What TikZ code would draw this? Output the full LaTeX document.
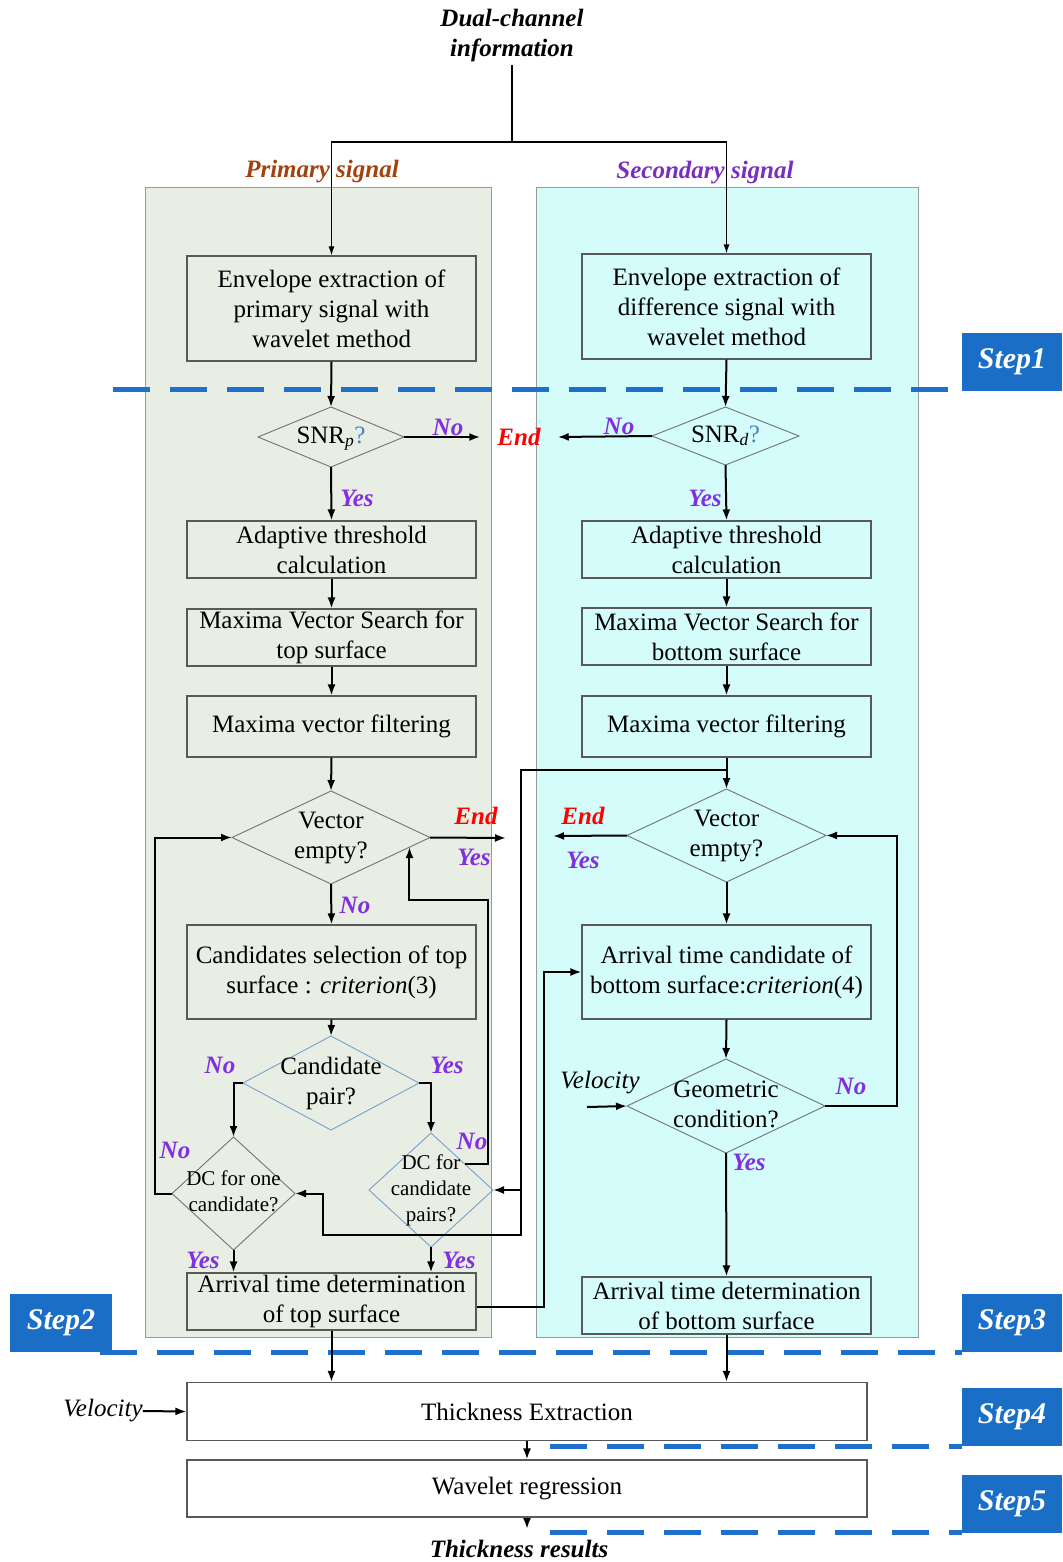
\documentclass[tikz,border=0pt]{standalone}
\usepackage{fontspec}
\setmainfont{Liberation Serif}
\usetikzlibrary{shapes.geometric,arrows.meta}
\definecolor{panelP}{RGB}{232,238,227}
\definecolor{panelS}{RGB}{211,252,250}
\definecolor{stepblue}{RGB}{27,110,198}
\definecolor{dashblue}{RGB}{31,112,204}
\definecolor{answer}{RGB}{128,48,224}
\definecolor{primbrown}{RGB}{163,66,15}
\definecolor{secpurple}{RGB}{122,46,190}
\definecolor{qblue}{RGB}{70,130,200}
\definecolor{pairedge}{RGB}{120,160,205}
\newcommand{\DiaText}[1]{\smash{\makebox[0pt]{\raisebox{-0.25em}{\begin{tabular}{@{}c@{}}#1\end{tabular}}}}}

\begin{document}
\begin{tikzpicture}[x=1pt,y=-1pt,
    procbox/.style={draw=black!65,line width=1.1pt,minimum width=289pt,inner sep=0pt,align=center,font=\fontsize{25}{30}\selectfont},
    dia/.style={diamond,draw=black!55,line width=0.9pt,inner sep=0pt,outer sep=0pt,font=\fontsize{25}{30}\selectfont},
    dcdia/.style={dia,font=\fontsize{21}{26}\selectfont},
    ans/.style={text=answer,inner sep=0pt,font=\fontsize{25}{30}\selectfont\bfseries\itshape},
    endtxt/.style={text=red,inner sep=0pt,font=\fontsize{25}{30}\selectfont\bfseries\itshape},
    arr/.style={line width=2pt,-{Latex[length=11pt,width=8pt]}},
    thinarr/.style={line width=1.2pt,-{Latex[length=9pt,width=6pt]}},
    stepbox/.style={fill=stepblue,text=white,minimum width=100pt,minimum height=58pt,inner sep=0pt,font=\fontsize{30}{36}\selectfont\bfseries\itshape},
    stepline/.style={draw=dashblue,line width=5pt,dash pattern=on 37pt off 20pt}]
    \useasboundingbox (0,0) rectangle (1062,1562);
    % panels
    \filldraw[fill=panelP,draw=black!40,line width=1pt] (145,188) rectangle (491,1337);
    \filldraw[fill=panelS,draw=black!40,line width=1pt] (536,188) rectangle (918,1337);
    \node[inner sep=0pt,text=primbrown,font=\fontsize{25}{30}\selectfont\bfseries\itshape] (titleP) at (322,172) {Primary signal};
    \node[inner sep=0pt,text=secpurple,font=\fontsize{25}{30}\selectfont\bfseries\itshape] (titleS) at (705,173) {Secondary signal};
    \node[align=center,font=\fontsize{25}{30}\selectfont\bfseries\itshape] (dual) at (512,35) {Dual-channel\\information};
    %
    \draw[stepline] (113,389) -- (962,389);
    \draw[stepline] (100,1352) -- (962,1352);
    \draw[stepline] (550,1446) -- (962,1446);
    \draw[stepline] (550,1532) -- (962,1532);
    \node[stepbox] (step1) at (1012,361.5) {Step1};
    \node[stepbox,minimum width=102pt] (step2) at (61,1322.5) {Step2};
    \node[stepbox] (step3) at (1012,1322.5) {Step3};
    \node[stepbox] (step4) at (1012,1417) {Step4};
    \node[stepbox] (step5) at (1012,1503.5) {Step5};
    %
    \node[procbox,minimum height=105pt] (envP) at (331.5,308.5) {Envelope extraction of\\primary signal with\\wavelet method};
    \node[dia,minimum width=146pt,minimum height=60pt] (snrP) at (331,437) {\DiaText{SNR\textsubscript{\textit{p}}{\color{qblue}?}}};
    \node[procbox,minimum height=57pt] (adaP) at (331.5,549.5) {Adaptive threshold\\calculation};
    \node[procbox,minimum height=57pt] (seaP) at (331.5,637.5) {Maxima Vector Search for\\top surface};
    \node[procbox,minimum height=61pt] (filP) at (331.5,726.5) {Maxima vector filtering};
    \node[dia,minimum width=198pt,minimum height=93pt] (vecP) at (331,837.5) {\DiaText{Vector\\empty?}};
    \node[procbox,minimum height=94pt] (canP) at (331.5,972) {Candidates selection of top\\surface : \textit{criterion}(3)};
    \node[dia,draw=pairedge,minimum width=176pt,minimum height=94pt] (pairP) at (331,1083) {\DiaText{Candidate\\pair?}};
    \node[dcdia,minimum width=123pt,minimum height=113pt] (dcOne) at (233.5,1193.5) {\DiaText{DC for one\\candidate?}};
    \node[dcdia,draw=pairedge,minimum width=124pt,minimum height=114pt] (dcPair) at (431,1190) {\DiaText{DC for\\candidate\\pairs?}};
    \node[procbox,minimum height=57pt] (arrP) at (331.5,1301.5) {Arrival time determination\\of top surface};
    %
    \node[procbox,minimum height=105pt] (envS) at (726.5,306.5) {Envelope extraction of\\difference signal with\\wavelet method};
    \node[dia,minimum width=147pt,minimum height=58pt] (snrS) at (725.5,436) {\DiaText{SNR\textsubscript{\textit{d}}{\color{qblue}?}}};
    \node[procbox,minimum height=57pt] (adaS) at (726.5,549.5) {Adaptive threshold\\calculation};
    \node[procbox,minimum height=57pt] (seaS) at (726.5,636.5) {Maxima Vector Search for\\bottom surface};
    \node[procbox,minimum height=61pt] (filS) at (726.5,726.5) {Maxima vector filtering};
    \node[dia,minimum width=199pt,minimum height=93pt] (vecS) at (726.5,835.5) {\DiaText{Vector\\empty?}};
    \node[procbox,minimum height=94pt] (canS) at (726.5,972) {Arrival time candidate of\\bottom surface:\textit{criterion}(4)};
    \node[dia,minimum width=198pt,minimum height=94pt] (geoS) at (726,1106) {\DiaText{Geometric\\condition?}};
    \node[procbox,minimum height=57pt] (arrS) at (726.5,1305.5) {Arrival time determination\\of bottom surface};
    %
    \node[procbox,minimum width=680pt,minimum height=58pt] (thick) at (527,1411.5) {Thickness Extraction};
    \node[procbox,minimum width=680pt,minimum height=57pt] (wave) at (527,1488.5) {Wavelet regression};
    \node[inner sep=0pt,font=\fontsize{25}{30}\selectfont\bfseries\itshape] (result) at (519,1549) {Thickness results};
    \node[inner sep=0pt,font=\fontsize{25}{30}\selectfont\itshape] (velL) at (103,1411) {Velocity};
    \node[inner sep=0pt,font=\fontsize{25}{30}\selectfont\itshape] (velR) at (600,1083) {Velocity};
    \coordinate (velIn) at (587,1107);
    %
    \node[endtxt,inner xsep=17pt] (endTop) at (519,437) {End};
    \node[endtxt] (endPv) at (476,816) {End};
    \node[endtxt] (endSv) at (583,816) {End};
    \coordinate (endP) at (506,838);
    \coordinate (endS) at (553,836);
    \node[ans] (noA) at (448,427) {No};
    \node[ans] (yesA) at (357,498) {Yes};
    \node[ans] (noB) at (619,426) {No};
    \node[ans] (yesB) at (705,498) {Yes};
    \node[ans] (yesC) at (474,857) {Yes};
    \node[ans] (noC) at (355,905) {No};
    \node[ans] (yesD) at (583,860) {Yes};
    \node[ans] (noE) at (220,1065) {No};
    \node[ans] (yesE) at (447,1065) {Yes};
    \node[ans] (noF) at (175,1150) {No};
    \node[ans] (yesF) at (203,1260) {Yes};
    \node[ans] (noG) at (472,1141) {No};
    \node[ans] (yesG) at (459,1260) {Yes};
    \node[ans] (noH) at (851,1086) {No};
    \node[ans] (yesH) at (749,1162) {Yes};
    %
    \draw[thinarr] (dual.south) -- (512,142) -| (envP.north);
    \draw[thinarr] (512,142) -| (envS.north);
    \draw[arr] (envP.south) -- (snrP.north);
    \draw[arr] (snrP.east) -- (endTop.west);
    \draw[arr] (snrS.west) -- (endTop.east);
    \draw[arr] (snrP.south) -- (adaP.north);
    \draw[arr] (adaP.south) -- (seaP.north);
    \draw[arr] (seaP.south) -- (filP.north);
    \draw[arr] (filP.south) -- (vecP.north);
    \draw[arr] (vecP.east) -- (endP);
    \draw[arr] (vecP.south) -- (canP.north);
    \draw[arr] (canP.south) -- (pairP.north);
    \draw[arr] (pairP.west) -| (dcOne.north);
    \draw[arr] (pairP.east) -| (dcPair.north);
    \draw[arr] (dcOne.west) -- ++(-17,0) |- (vecP.west);
    \draw[arr] (dcPair.37) -| (488,900) -| (vecP.-7);
    \draw[arr] (dcOne.south) -- (dcOne.south |- arrP.north);
    \draw[arr] (dcPair.south) -- (dcPair.south |- arrP.north);
    %
    \draw[arr] (envS.south) -- (snrS.north);
    \draw[arr] (snrS.south) -- (adaS.north);
    \draw[arr] (adaS.south) -- (seaS.north);
    \draw[arr] (seaS.south) -- (filS.north);
    \draw[arr] (filS.south) -- (vecS.north);
    \coordinate (split) at (726.5,770);
    \draw[arr] (split) -| (521,1190) -- (dcPair.east);
    \draw[arr] (521,1190) |- (323,1235) |- (dcOne.east);
    \draw[arr] (vecS.west) -- (endS);
    \draw[arr] (vecS.south) -- (canS.north);
    \draw[arr] (canS.south) -- (geoS.north);
    \draw[arr] (velIn) -- (geoS.west);
    \draw[arr] (geoS.east) -- ++(72,0) |- (vecS.east);
    \draw[arr] (geoS.south) -- (arrS.north);
    \draw[arr] ([yshift=-5pt]arrP.east) -- ++(67,0) |- (canS.west);
    %
    \draw[arr] (arrP.south) -- (arrP.south |- thick.north);
    \draw[arr] (arrS.south) -- (arrS.south |- thick.north);
    \draw[arr] (velL.east) -- (thick.west);
    \draw[arr] (thick.south) -- (wave.north);
    \draw[arr] (wave.south) -- ([yshift=11pt]wave.south |- result.north);
\end{tikzpicture}
\end{document}
